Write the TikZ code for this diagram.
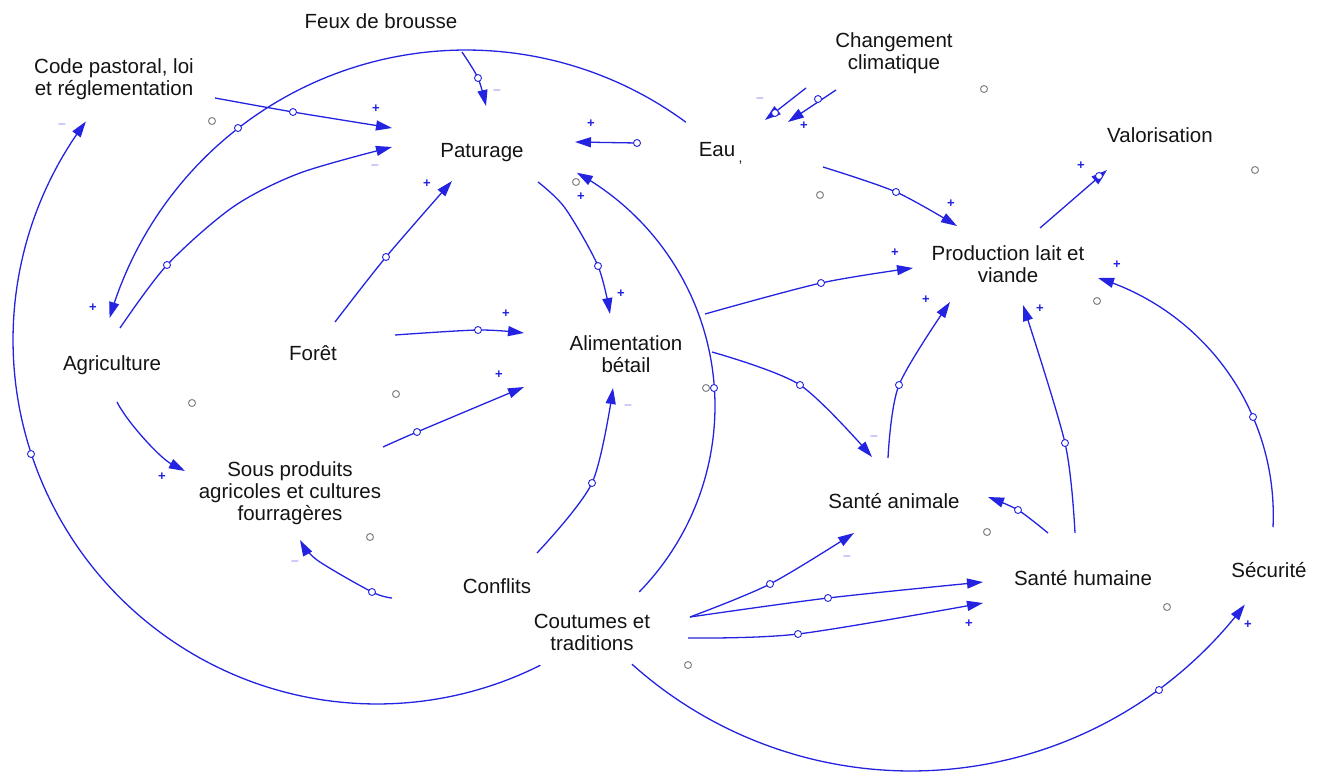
\documentclass[tikz,border=0pt]{standalone}
\usepackage{fontspec}
\setmainfont{Liberation Sans}
\usetikzlibrary{arrows.meta,calc}
\definecolor{lb}{RGB}{35,35,225}
\definecolor{tx}{RGB}{20,20,20}
\definecolor{gc}{RGB}{130,130,130}
\begin{document}
\begin{tikzpicture}[x=1pt,y=-1pt,
  lbl/.style={font=\fontsize{20.5}{22}\selectfont, text=tx, align=center, inner sep=0pt},
  lk/.style={draw=lb, line width=1.3pt, -{Triangle[length=16pt,width=10pt]}},
  hd/.style={circle, draw=lb, fill=white, line width=0.9pt, minimum size=7pt, inner sep=0pt},
  gr/.style={circle, draw=gc, line width=1pt, minimum size=7pt, inner sep=0pt},
  pl/.style={text=lb, font=\fontsize{13}{13}\selectfont\bfseries, inner sep=0pt}]
\useasboundingbox (0,0) rectangle (1320,776);
% variables
\node[lbl] (feu) at (381,21) {Feux de brousse};
\node[lbl] (code) at (114,79) {Code pastoral, loi\\et réglementation};
\node[lbl] (cc) at (894,53) {Changement\\climatique};
\node[lbl] (pat) at (482,153) {Paturage};
\node[lbl] (eau) at (717,153) {Eau\rlap{\,\raisebox{-6pt}{\fontsize{14}{14}\selectfont,}}};
\node[lbl] (valo) at (1160,135) {Valorisation};
\node[lbl] (prod) at (1008,264) {Production lait et\\viande};
\node[lbl] (agr) at (112,365) {Agriculture};
\node[lbl] (fore) at (313,353) {Forêt};
\node[lbl] (alim) at (626,354) {Alimentation\\bétail};
\node[lbl] (sp) at (290,493) {Sous produits\\agricoles et cultures\\fourragères};
\node[lbl] (sa) at (894,501) {Santé animale};
\node[lbl] (sh) at (1083,578) {Santé humaine};
\node[lbl] (sec) at (1269,570) {Sécurité};
\node[lbl] (conf) at (497,586) {Conflits};
\node[lbl] (cout) at (592,632) {Coutumes et\\traditions};
% connector ends
\coordinate (s1) at ($(code)+(101,19)$);  \coordinate (e1) at ($(pat)+(-90,-25)$);
\coordinate (s2) at ($(agr)+(8,-37)$);    \coordinate (e2) at ($(pat)+(-90,-6)$);
\coordinate (s3) at ($(eau)+(-31,-31)$);
\coordinate (s4) at ($(feu)+(81,31)$);    \coordinate (e4) at ($(pat)+(4,-47)$);
\coordinate (s5) at ($(eau)+(-80,-10)$);  \coordinate (e5) at ($(pat)+(93,-11)$);
\coordinate (s6) at ($(cc)+(-88,35)$);    \coordinate (e6) at ($(eau)+(48,-33)$);
\coordinate (s7) at ($(cc)+(-58,37)$);    \coordinate (e7) at ($(eau)+(71,-31)$);
\coordinate (s8) at ($(eau)+(106,14)$);   \coordinate (e8) at ($(prod)+(-51,-38)$);
\coordinate (s9) at ($(prod)+(32,-36)$);  \coordinate (e9) at ($(valo)+(-53,35)$);
\coordinate (s10) at ($(fore)+(22,-31)$); \coordinate (e10) at ($(pat)+(-30,28)$);
\coordinate (s11) at ($(fore)+(82,-18)$); \coordinate (e11) at ($(alim)+(-102,-21)$);
\coordinate (s12) at ($(sp)+(93,-46)$);   \coordinate (e12) at ($(alim)+(-102,33)$);
\coordinate (s13) at ($(pat)+(56,29)$);   \coordinate (e13) at ($(alim)+(-16,-40)$);
\coordinate (s14) at ($(cout)+(48,-40)$);
\coordinate (s15) at ($(alim)+(79,-40)$); \coordinate (e15) at ($(prod)+(-95,4)$);
\coordinate (s16) at ($(alim)+(86,-2)$);  \coordinate (e16) at ($(sa)+(-22,-44)$);
\coordinate (s17) at ($(sa)+(-6,-43)$);   \coordinate (e17) at ($(prod)+(-58,38)$);
\coordinate (s18) at ($(sh)+(-8,-45)$);   \coordinate (e18) at ($(prod)+(15,41)$);
\coordinate (s19) at ($(sh)+(-35,-45)$);  \coordinate (e19) at ($(sa)+(94,-4)$);
\coordinate (s20) at ($(sec)+(4,-43)$);
\coordinate (s21) at ($(cout)+(98,-15)$); \coordinate (e21) at ($(sa)+(-40,32)$);
\coordinate (e22) at ($(sh)+(-100,4)$);
\coordinate (s23) at ($(cout)+(96,6)$);   \coordinate (e23) at ($(sh)+(-100,25)$);
\coordinate (s24) at ($(cout)+(40,33)$);
\coordinate (s25) at ($(cout)+(-52,33)$);
\coordinate (s26) at ($(conf)+(40,-33)$); \coordinate (e26) at ($(alim)+(-13,34)$);
\coordinate (s27) at ($(conf)+(-105,12)$);\coordinate (e27) at ($(sp)+(10,47)$);
\coordinate (s28) at ($(agr)+(5,37)$);    \coordinate (e28) at ($(sp)+(-105,-22)$);
% connectors
\draw[lk] plot[smooth] coordinates {(s1) (293,112) (e1)};
\draw[lk] plot[smooth] coordinates {(s2) (167,265) (233,207) (300,173) (e2)};
\draw[lk] (s3) -- plot[domain=-53.7:-163.9,samples=90] ({466+371*cos(\x)},{421+371*sin(\x)});
\draw[lk] plot[smooth] coordinates {(s4) (478,78) (e4)};
\draw[lk] (s5) -- (e5);
\draw[lk] (s6) -- (e6);
\draw[lk] (s7) -- (e7);
\draw[lk] plot[smooth] coordinates {(s8) (896,192) (e8)};
\draw[lk] (s9) -- (e9);
\draw[lk] plot[smooth] coordinates {(s10) (386,257) (e10)};
\draw[lk] plot[smooth] coordinates {(s11) (478,330) (e11)};
\draw[lk] plot[smooth] coordinates {(s12) (417,432) (e12)};
\draw[lk] plot[smooth] coordinates {(s13) (565,208) (598,266) (e13)};
\draw[lk] (s14) -- plot[domain=44.2:-61.3,samples=80] ({449+266*cos(\x)},{406+266*sin(\x)});
\draw[lk] plot[smooth] coordinates {(s15) (821,283) (e15)};
\draw[lk] plot[smooth] coordinates {(s16) (800,385) (e16)};
\draw[lk] plot[smooth] coordinates {(s17) (899,385) (e17)};
\draw[lk] plot[smooth] coordinates {(s18) (1065,443) (e18)};
\draw[lk] plot[smooth] coordinates {(s19) (1018,510) (e19)};
\draw[lk] (s20) -- plot[domain=2.7:-72.9,samples=70] ({1025+248.3*cos(\x)},{515.3+248.3*sin(\x)});
\draw[lk] plot[smooth] coordinates {(s21) (770,584) (e21)};
\draw[lk] plot[smooth] coordinates {(s21) (828,598) (e22)};
\draw[lk] plot[smooth] coordinates {(s23) (798,634) (e23)};
\draw[lk] (s24) -- plot[domain=131.8:37,samples=90] ({911+418*cos(\x)},{353+418*sin(\x)});
\draw[lk] (s25) -- plot[domain=63.4:216.9,samples=120] ({377+364*cos(\x)},{340+364*sin(\x)});
\draw[lk] plot[smooth] coordinates {(s26) (592,483) (e26)};
\draw[lk] plot[smooth] coordinates {(s27) (372,592) (317,560) (e27)};
\draw[lk] (s28) .. controls (127,422) and (160,458) .. (e28);
% handles
\node[hd] (h1) at (293,112) {};  \node[hd] (h2) at (167,265) {};
\node[hd] (h3) at (238,128) {};  \node[hd] (h4) at (478,78) {};
\node[hd] (h5) at (637,143) {};  \node[hd] (h6) at (775,113) {};
\node[hd] (h7) at (818,99) {};   \node[hd] (h8) at (896,192) {};
\node[hd] (h9) at (1099,176) {}; \node[hd] (h10) at (386,257) {};
\node[hd] (h11) at (478,330) {}; \node[hd] (h12) at (417,432) {};
\node[hd] (h13) at (598,266) {}; \node[hd] (h14) at (714,388) {};
\node[hd] (h15) at (821,283) {}; \node[hd] (h16) at (800,385) {};
\node[hd] (h17) at (899,385) {}; \node[hd] (h18) at (1065,443) {};
\node[hd] (h19) at (1018,510) {};\node[hd] (h20) at (1253,417) {};
\node[hd] (h21) at (770,584) {}; \node[hd] (h22) at (828,598) {};
\node[hd] (h23) at (798,634) {}; \node[hd] (h24) at (1159,690) {};
\node[hd] (h25) at (31,454) {};  \node[hd] (h26) at (592,483) {};
\node[hd] (h27) at (372,592) {};
% stray grey circles
\node[gr] (g1) at (212,121) {};  \node[gr] (g2) at (192,403) {};
\node[gr] (g3) at (396,394) {};  \node[gr] (g4) at (576,182) {};
\node[gr] (g5) at (820,195) {};  \node[gr] (g6) at (984,89) {};
\node[gr] (g7) at (1255,170) {}; \node[gr] (g8) at (1097,301) {};
\node[gr] (g9) at (987,532) {};  \node[gr] (g10) at (1167,607) {};
\node[gr] (g11) at (688,665) {}; \node[gr] (g12) at (370,537) {};
\node[gr] (g13) at (706,388) {};
% polarities
\node[pl] (p1) at (376,109) {+};
\node[pl] (p2) at (375,165) {$-$};
\node[pl] (p3) at (93,308) {+};
\node[pl] (p4) at (497,90) {$-$};
\node[pl] (p5) at (591,124) {+};
\node[pl] (p6) at (760,98) {$-$};
\node[pl] (p7) at (804,126) {+};
\node[pl] (p8) at (951,204) {+};
\node[pl] (p9) at (1081,166) {+};
\node[pl] (p10) at (427,184) {+};
\node[pl] (p11) at (506,314) {+};
\node[pl] (p12) at (499,375) {+};
\node[pl] (p13) at (621,294) {+};
\node[pl] (p14) at (581,197) {+};
\node[pl] (p15) at (895,253) {+};
\node[pl] (p16) at (874,436) {$-$};
\node[pl] (p17) at (926,300) {+};
\node[pl] (p18) at (1040,309) {+};
\node[pl] (p20) at (1117,265) {+};
\node[pl] (p21) at (847,556) {$-$};
\node[pl] (p23) at (969,624) {+};
\node[pl] (p24) at (1248,625) {+};
\node[pl] (p25) at (62,124) {$-$};
\node[pl] (p26) at (628,405) {$-$};
\node[pl] (p27) at (295,561) {$-$};
\node[pl] (p28) at (162,477) {+};
\end{tikzpicture}
\end{document}
